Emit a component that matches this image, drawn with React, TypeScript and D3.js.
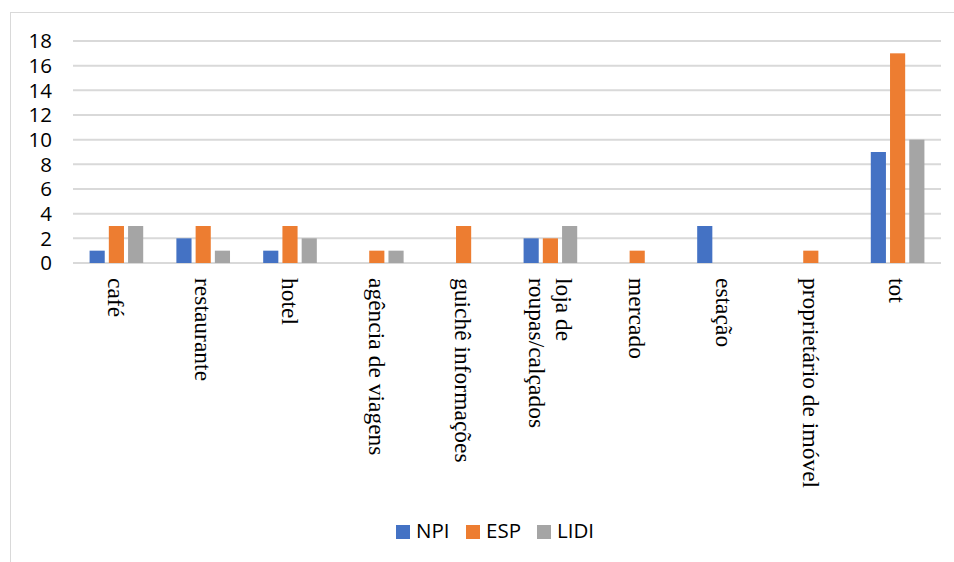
import React from "react";
import * as d3 from "d3";

// Categories (a "\n" marks where the axis label wraps onto a second line)
const categories = [
  "café",
  "restaurante",
  "hotel",
  "agência de viagens",
  "guichê informações",
  "loja de\nroupas/calçados",
  "mercado",
  "estação",
  "proprietário de imóvel",
  "tot",
];

const seriesNames = ["NPI", "ESP", "LIDI"];
const npi = [1, 2, 1, 0, 0, 2, 0, 3, 0, 9];
const esp = [3, 3, 3, 1, 3, 2, 1, 0, 1, 17];
const lidi = [3, 1, 2, 1, 0, 3, 0, 0, 0, 10];
const seriesValues = [npi, esp, lidi];
const colors = ["#4472C4", "#ED7D31", "#A5A5A5"];
const yTicks = [0, 2, 4, 6, 8, 10, 12, 14, 16, 18];

const W = 954;
const H = 562;
const plot = { left: 73, right: 941, top: 41, bottom: 263 };

const sansFont = "'Open Sans', 'Noto Sans', sans-serif";
const serifFont = "'Liberation Serif', 'Times New Roman', serif";

export default function App() {
  // Excel-style clustered columns: gap width 219%, overlap -27%
  const x = d3
    .scaleBand<string>()
    .domain(categories)
    .range([plot.left, plot.right])
    .paddingInner(2.19 / 5.73)
    .paddingOuter(2.19 / 5.73 / 2);

  const xInner = d3
    .scaleBand<string>()
    .domain(seriesNames)
    .range([0, x.bandwidth()])
    .paddingInner(0.27 / 1.27)
    .paddingOuter(0);

  const y = d3.scaleLinear().domain([0, 18]).range([plot.bottom, plot.top]);

  const labelFontSize = 23.5;
  const lineHeight = 1.15;

  // legend layout
  const legendItems = [
    { name: "NPI", x: 396 },
    { name: "ESP", x: 466 },
    { name: "LIDI", x: 537 },
  ];

  return (
    <svg
      width={W}
      height={H}
      style={{ position: "absolute", left: 0, top: 0, display: "block", background: "#fff" }}
    >
      {/* chart frame */}
      <rect x={10.5} y={12.5} width={W + 10} height={H + 10} fill="#fff" stroke="#d9d9d9" strokeWidth={1} />

      {/* gridlines */}
      {yTicks.map((t) => (
        <line
          key={`g${t}`}
          x1={plot.left}
          x2={plot.right}
          y1={y(t)}
          y2={y(t)}
          stroke="#d9d9d9"
          strokeWidth={2}
        />
      ))}

      {/* y tick labels */}
      {yTicks.map((t) => (
        <text
          key={`t${t}`}
          x={52}
          y={y(t)}
          dy="0.36em"
          textAnchor="end"
          fontFamily={sansFont}
          fontSize={20.5}
          fill="#000"
        >
          {t}
        </text>
      ))}

      {/* bars */}
      {categories.map((c, i) => (
        <g key={`c${i}`} transform={`translate(${x(c)},0)`}>
          {seriesNames.map((s, k) => {
            const v = seriesValues[k][i];
            if (!v) return null;
            return (
              <rect
                key={s}
                x={xInner(s)}
                y={y(v)}
                width={xInner.bandwidth()}
                height={y(0) - y(v)}
                fill={colors[k]}
              />
            );
          })}
        </g>
      ))}

      {/* category labels, rotated to read top to bottom */}
      {categories.map((c, i) => {
        const lines = c.split("\n");
        const cx = (x(c) as number) + x.bandwidth() / 2;
        const firstDy = 0.35 - ((lines.length - 1) * lineHeight) / 2;
        return (
          <text
            key={`l${i}`}
            transform={`translate(${cx},278) rotate(90)`}
            fontFamily={serifFont}
            fontSize={labelFontSize}
            fill="#000"
          >
            {lines.map((ln, j) => (
              <tspan key={j} x={0} dy={`${j === 0 ? firstDy : lineHeight}em`}>
                {ln}
              </tspan>
            ))}
          </text>
        );
      })}

      {/* legend */}
      {legendItems.map((it, k) => (
        <g key={it.name}>
          <rect x={it.x} y={525} width={14} height={14} fill={colors[k]} />
          <text
            x={it.x + 20}
            y={531}
            dy="0.36em"
            fontFamily={sansFont}
            fontSize={20.5}
            fill="#000"
          >
            {it.name}
          </text>
        </g>
      ))}
    </svg>
  );
}
